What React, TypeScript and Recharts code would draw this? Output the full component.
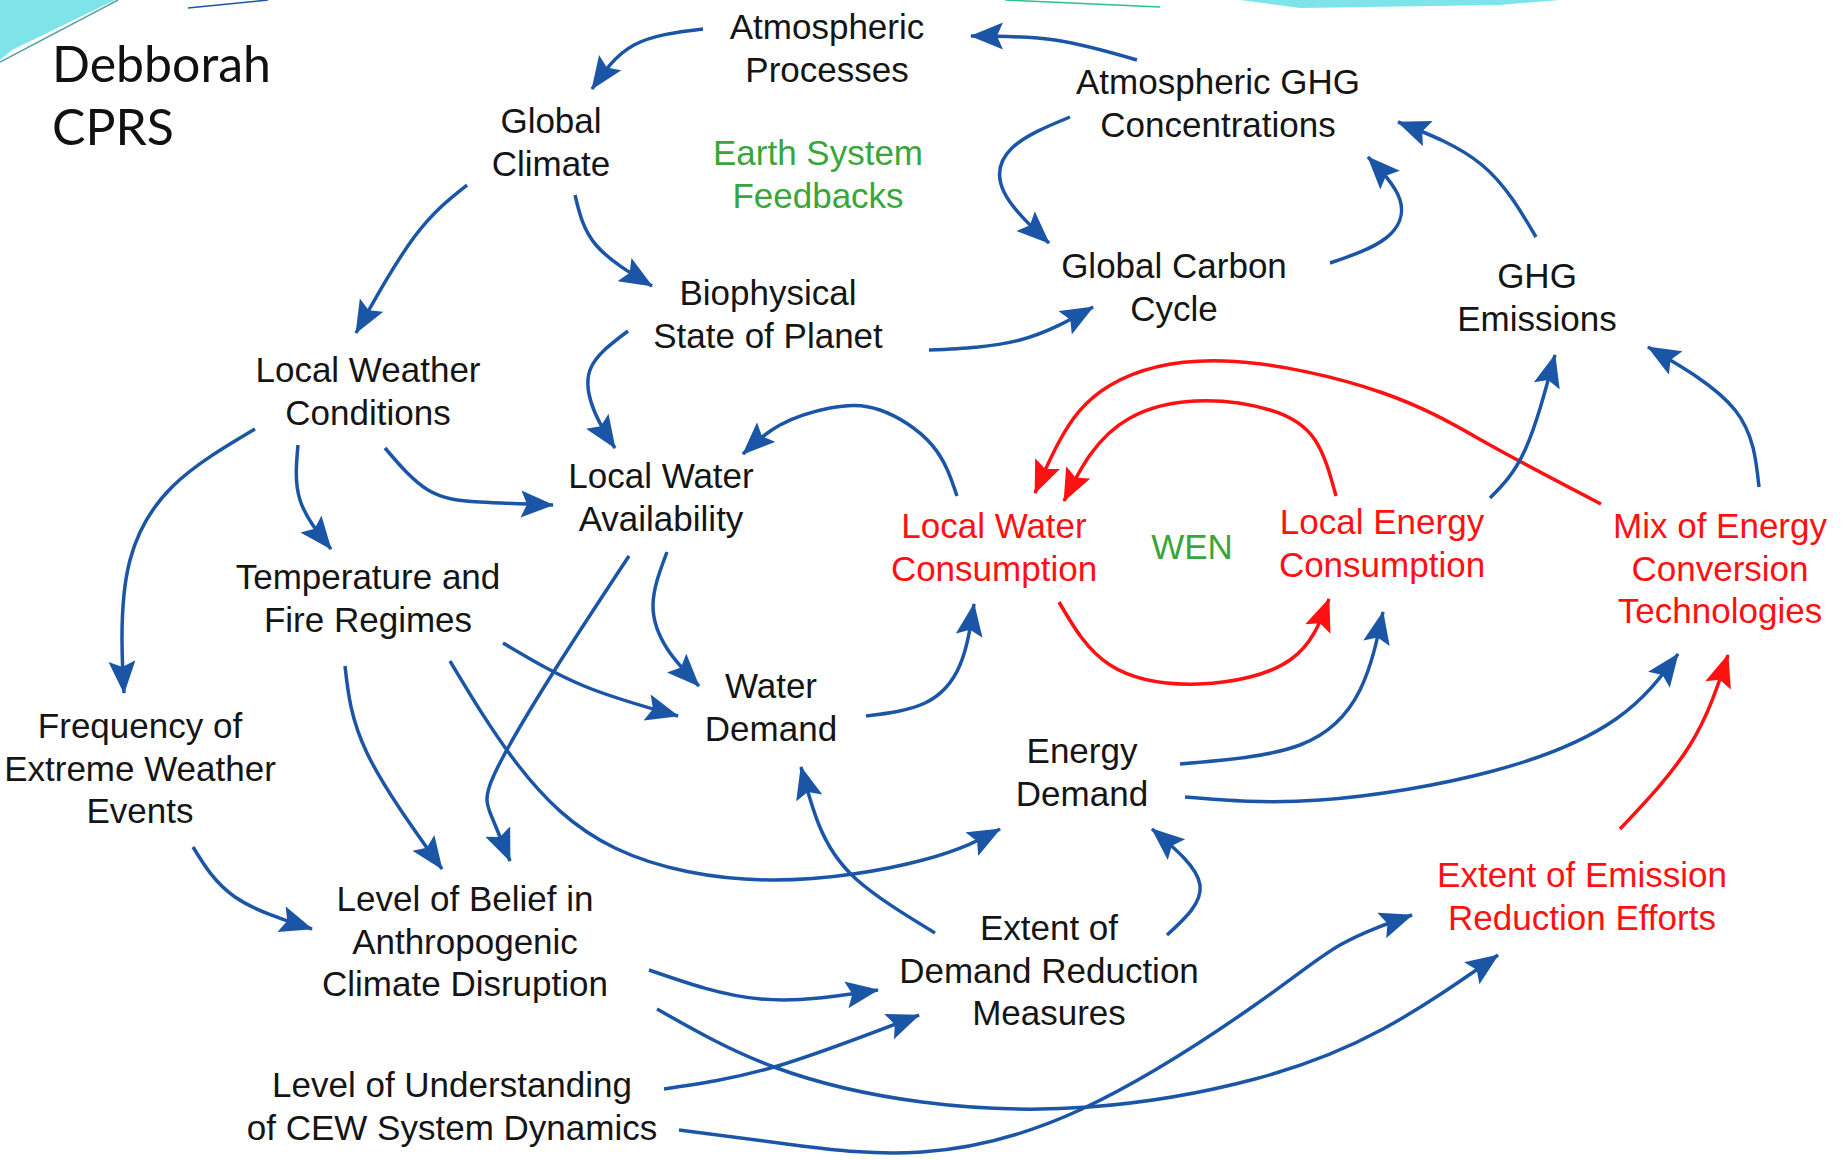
import React from 'react';
import { ComposedChart, Line, Scatter, XAxis, YAxis } from 'recharts';

const W = 1845;
const H = 1160;
const LINE_GAP = 42.7;

const BLUE = '#1b56a6';
const RED = '#ff1111';
const GREEN = '#3aa53a';
const INK = '#151515';

// text blocks of the causal loop diagram
const nodeLabels: string[][] = [
  ['Atmospheric', 'Processes'],
  ['Global', 'Climate'],
  ['Earth System', 'Feedbacks'],
  ['Atmospheric GHG', 'Concentrations'],
  ['Global Carbon', 'Cycle'],
  ['GHG', 'Emissions'],
  ['Biophysical', 'State of Planet'],
  ['Local Weather', 'Conditions'],
  ['Local Water', 'Availability'],
  ['Temperature and', 'Fire Regimes'],
  ['Water', 'Demand'],
  ['Local Water', 'Consumption'],
  ['WEN'],
  ['Local Energy', 'Consumption'],
  ['Mix of Energy', 'Conversion', 'Technologies'],
  ['Frequency of', 'Extreme Weather', 'Events'],
  ['Energy', 'Demand'],
  ['Level of Belief in', 'Anthropogenic', 'Climate Disruption'],
  ['Extent of', 'Demand Reduction', 'Measures'],
  ['Extent of Emission', 'Reduction Efforts'],
  ['Level of Understanding', 'of CEW System Dynamics'],
];
const nodeX = [827, 551, 818, 1218, 1174, 1537, 768, 368, 661, 368, 771, 994, 1192, 1382, 1720, 140, 1082, 465, 1049, 1582, 452];
const nodeBaseline = [39, 133, 165, 94, 278, 288, 305, 382, 488, 589, 698, 538, 559, 534, 538, 738, 763, 911, 940, 887, 1097];
const nodeTone = ['k', 'k', 'g', 'k', 'k', 'k', 'k', 'k', 'k', 'k', 'k', 'r', 'g', 'r', 'r', 'k', 'k', 'k', 'k', 'r', 'k'];

const titleLines = ['Debborah', 'CPRS'];

// causal links: colour + points the curve passes through (last point = arrow tip)
const links: { tone: 'b' | 'r'; pts: number[][] }[] = [
  { tone: 'b', pts: [[703, 29], [634, 45], [592, 89]] },
  { tone: 'b', pts: [[1137, 60], [1055, 40], [971, 36]] },
  { tone: 'b', pts: [[467, 185], [415, 236], [356, 333]] },
  { tone: 'b', pts: [[575, 195], [596, 245], [652, 286]] },
  { tone: 'b', pts: [[1070, 117], [1012, 148], [1004, 192], [1049, 243]] },
  { tone: 'b', pts: [[1330, 263], [1386, 238], [1400, 200], [1368, 157]] },
  { tone: 'b', pts: [[1536, 237], [1482, 165], [1398, 122]] },
  { tone: 'b', pts: [[929, 350], [1020, 340], [1093, 307]] },
  { tone: 'b', pts: [[628, 331], [590, 370], [596, 415], [615, 448]] },
  { tone: 'b', pts: [[385, 448], [428, 490], [480, 502], [553, 505]] },
  { tone: 'b', pts: [[298, 445], [300, 500], [331, 549]] },
  { tone: 'b', pts: [[255, 429], [173, 486], [130, 560], [122, 640], [124, 693]] },
  { tone: 'b', pts: [[957, 496], [932, 445], [880, 410], [830, 408], [780, 425], [743, 454]] },
  { tone: 'b', pts: [[667, 552], [653, 605], [668, 650], [699, 686]] },
  { tone: 'b', pts: [[503, 643], [584, 686], [678, 716]] },
  { tone: 'b', pts: [[866, 716], [925, 703], [960, 665], [974, 604]] },
  { tone: 'r', pts: [[1336, 496], [1315, 440], [1270, 410], [1195, 401], [1130, 418], [1090, 455], [1064, 501]] },
  { tone: 'r', pts: [[1601, 504], [1490, 445], [1383, 393], [1224, 361], [1109, 386], [1060, 440], [1035, 493]] },
  { tone: 'r', pts: [[1059, 602], [1110, 665], [1199, 684], [1290, 660], [1329, 599]] },
  { tone: 'b', pts: [[1490, 498], [1525, 450], [1555, 355]] },
  { tone: 'b', pts: [[1759, 487], [1735, 410], [1648, 347]] },
  { tone: 'b', pts: [[1180, 764], [1300, 745], [1360, 690], [1383, 612]] },
  { tone: 'b', pts: [[1185, 797], [1320, 800], [1493, 771], [1616, 719], [1678, 654]] },
  { tone: 'r', pts: [[1620, 829], [1690, 745], [1728, 655]] },
  { tone: 'b', pts: [[345, 666], [367, 753], [442, 869]] },
  { tone: 'b', pts: [[450, 661], [518, 765], [615, 848], [770, 880], [923, 860], [1000, 829]] },
  { tone: 'b', pts: [[629, 556], [551, 676], [494, 775], [491, 815], [510, 861]] },
  { tone: 'b', pts: [[193, 847], [235, 897], [312, 929]] },
  { tone: 'b', pts: [[935, 933], [856, 879], [819, 825], [801, 767]] },
  { tone: 'b', pts: [[1167, 935], [1200, 885], [1152, 829]] },
  { tone: 'b', pts: [[649, 970], [761, 999], [878, 990]] },
  { tone: 'b', pts: [[664, 1089], [774, 1067], [919, 1015]] },
  { tone: 'b', pts: [[657, 1009], [774, 1067], [922, 1102], [1089, 1107], [1255, 1079], [1383, 1029], [1498, 955]] },
  { tone: 'b', pts: [[679, 1130], [794, 1145], [922, 1152], [1082, 1109], [1255, 1005], [1340, 945], [1412, 915]] },
];

const toneColor: Record<string, string> = { k: INK, r: RED, g: GREEN, b: BLUE };

const nodes = nodeLabels.map((lines, i) => ({ x: nodeX[i], y: nodeBaseline[i], lines, tone: nodeTone[i] }));
const title = [{ x: 52, y: 82, lines: titleLines, tone: 'k' }];

const NodeLabel = (props: any) => {
  const { cx, cy, payload } = props;
  return (
    <text textAnchor="middle" fontFamily="'Liberation Sans', Arial, sans-serif" fontSize={35} fill={toneColor[payload.tone]}>
      {payload.lines.map((l: string, i: number) => (
        <tspan key={i} x={cx} y={cy + i * LINE_GAP}>{l}</tspan>
      ))}
    </text>
  );
};

const TitleLabel = (props: any) => {
  const { cx, cy, payload } = props;
  return (
    <text textAnchor="start" fontFamily="Lato, 'Open Sans', sans-serif" fontSize={50} fill="#111">
      {payload.lines.map((l: string, i: number) => (
        <tspan key={i} x={cx} y={cy + i * 63}>{l}</tspan>
      ))}
    </text>
  );
};

const Decor = () => (
  <svg width={W} height={H} style={{ position: 'absolute', left: 0, top: 0 }}>
    <polygon points="0,0 115,0 12,50 0,60" fill="#7fe3ea" />
    <line x1={0} y1={62} x2={118} y2={0} stroke="#5aa0a0" strokeWidth={1.5} />
    <line x1={188} y1={8} x2={268} y2={0} stroke="#1b56a6" strokeWidth={1.5} />
    <polygon points="1240,0 1560,0 1500,5 1300,8" fill="#7fe3ea" />
    <line x1={1005} y1={0} x2={1160} y2={7} stroke="#2bbf8f" strokeWidth={1.5} />
  </svg>
);

const App: React.FC = () => {
  return (
    <div style={{ position: 'absolute', left: 0, top: 0, width: W, height: H, background: '#fff' }}>
      <svg width={0} height={0} style={{ position: 'absolute' }}>
        <defs>
          <marker id="head-b" markerUnits="userSpaceOnUse" markerWidth={36} markerHeight={30} refX={32} refY={13.5} orient="auto">
            <path d="M0,0 L33,13.5 L0,27 L6,13.5 Z" fill={BLUE} />
          </marker>
          <marker id="head-r" markerUnits="userSpaceOnUse" markerWidth={36} markerHeight={30} refX={32} refY={13.5} orient="auto">
            <path d="M0,0 L33,13.5 L0,27 L6,13.5 Z" fill={RED} />
          </marker>
        </defs>
      </svg>
      <Decor />
      <div style={{ position: 'absolute', left: 0, top: 0 }}>
        <ComposedChart width={W} height={H} margin={{ top: 0, right: 0, bottom: 0, left: 0 }}>
          <XAxis type="number" dataKey="x" domain={[0, W]} hide allowDataOverflow />
          <YAxis type="number" dataKey="y" domain={[0, H]} reversed hide allowDataOverflow />
          {links.map((lk, i) => (
            <Line
              key={`link-${i}`}
              data={lk.pts.map(([x, y]) => ({ x, y }))}
              dataKey="y"
              type="natural"
              stroke={toneColor[lk.tone]}
              strokeWidth={3.5}
              dot={false}
              activeDot={false}
              markerEnd={`url(#head-${lk.tone})`}
              isAnimationActive={false}
            />
          ))}
          <Scatter data={nodes} dataKey="y" shape={NodeLabel} isAnimationActive={false} />
          <Scatter data={title} dataKey="y" shape={TitleLabel} isAnimationActive={false} />
        </ComposedChart>
      </div>
    </div>
  );
};

export default App;
